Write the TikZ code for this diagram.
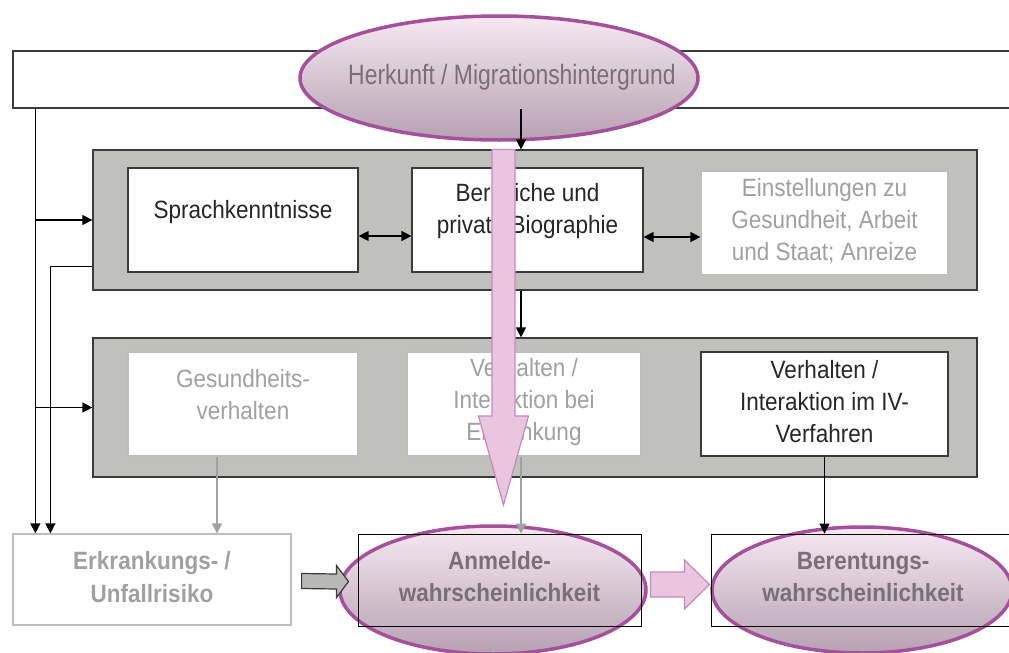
\documentclass[tikz,border=0pt]{standalone}
\usepackage{fontspec}
\setmainfont[FakeStretch=0.9]{Liberation Sans}
\usepackage{graphicx}
\usetikzlibrary{shapes.geometric,arrows.meta,calc}

\definecolor{rahmen}{HTML}{3A3A3A}
\definecolor{ebenegrau}{HTML}{C0C0BD}
\definecolor{hellgrau}{HTML}{A0A0A0}
\definecolor{hellrahmen}{HTML}{BDBDBD}
\definecolor{lila}{HTML}{A5509A}
\definecolor{lilaoben}{HTML}{F7E8F3}
\definecolor{lilaunten}{HTML}{B6A1B2}
\definecolor{lilatext}{HTML}{7B6E79}
\definecolor{rosa}{HTML}{EAC5DF}
\definecolor{rosarand}{HTML}{C48AB8}
\definecolor{blockgrau}{HTML}{B9B9B5}

\tikzset{
  kasten/.style={draw=#1, fill=white, line width=1.2pt, minimum height=104pt,
    align=center, inner sep=2pt, text=black!85, font=\fontsize{25}{32}\selectfont},
  kasten/.default=rahmen,
  blass/.style={kasten=hellrahmen, text=hellgrau},
  hoch/.style={text depth=#1pt},
  ebene/.style={draw=rahmen, fill=ebenegrau, line width=1.2pt, minimum width=884pt, inner sep=0pt},
  wolke/.style={ellipse, draw=lila, line width=3.5pt, top color=lilaoben, bottom color=lilaunten, inner sep=0pt},
  ziel/.style={draw=black, line width=1pt, minimum height=92pt, align=center, inner sep=2pt,
    text=lilatext, font=\fontsize{25}{32}\selectfont\bfseries},
  pfeil/.style={-{Triangle[length=10pt,width=10pt]}, line width=1.3pt, draw=black},
  pfeilgrau/.style={pfeil, draw=hellgrau, color=hellgrau},
  dbl/.style={{Triangle[length=10pt,width=10pt]}-{Triangle[length=10pt,width=10pt]}, line width=1.3pt},
  rosapfeil/.style={draw=rosarand, fill=rosa, line width=1.2pt, line join=miter},
  graupfeil/.style={draw=rahmen, fill=blockgrau, line width=1.2pt, line join=miter}
}

\begin{document}
\begin{tikzpicture}[x=1pt,y=-1pt]
   \useasboundingbox (0,0) rectangle (1009,653);

   % Herkunft
   \node[kasten, fill=none, minimum width=1002pt, minimum height=57pt] (herkunftbox) at (514,79.5) {};
   \node[wolke, minimum width=398pt, minimum height=124pt] (herkunft) at (499,78) {};
   \node[text=lilatext, inner sep=0pt] (herkunfttext) at (512,77)
      {\scalebox{0.91}[1]{\fontsize{28}{30}\selectfont Herkunft / Migrationshintergrund}};

   % Ebenen
   \node[ebene, minimum height=140pt] (ebene1) at (535,220) {};
   \node[ebene, minimum height=139pt] (ebene2) at (535,407.5) {};

   \node[kasten, minimum width=230pt, hoch=21] (sprach) at (243,220) {Sprachkenntnisse};
   \node[kasten, minimum width=231pt, hoch=23] (beruf) at (527.5,220) {Berufliche und\\private Biographie};
   \node[blass, minimum width=247pt, hoch=8] (einst) at (824.5,223) {Einstellungen zu\\Gesundheit, Arbeit\\und Staat; Anreize};

   \node[blass, minimum width=230pt, hoch=20] (gesund) at (243,404) {Gesundheits-\\verhalten};
   \node[blass, minimum width=234pt, hoch=10] (verherk) at (524,404) {Verhalten /\\Interaktion bei\\Erkrankung};
   \node[kasten, minimum width=247pt, hoch=6] (verhiv) at (824.5,404) {Verhalten /\\Interaktion im IV-\\Verfahren};

   % Ergebnisse
   \node[blass, font=\fontsize{25}{33}\selectfont\bfseries, minimum width=278pt, minimum height=91pt, hoch=6]
      (erkr) at (152,579.5) {Erkrankungs- /\\Unfallrisiko};
   \node[wolke, minimum width=306pt, minimum height=128pt] (anmwolke) at (493,590) {};
   \node[wolke, minimum width=300pt, minimum height=126pt] (berwolke) at (862,590) {};
   \node[ziel, minimum width=283pt, hoch=8] (anm) at (499.5,580) {Anmelde-\\wahrscheinlichkeit};
   \node[ziel, minimum width=304pt, hoch=7] (ber) at (863,580) {Berentungs-\\wahrscheinlichkeit};

   % Verbindungen
   \coordinate (links1) at ([xshift=23]herkunftbox.south west);
   \coordinate (links2) at ([xshift=38]erkr.north west);
   \coordinate (mitte) at (521,0);
   \draw[pfeil] (links1) -- (links1 |- erkr.north);
   \draw[pfeil] (links1 |- ebene1.west) -- (ebene1.west);
   \draw[pfeil] (links1 |- ebene2.west) -- (ebene2.west);
   \draw[pfeil] ([yshift=24]ebene1.south west) -| (links2);

   \draw[dbl] ([yshift=-16]sprach.east) -- ([yshift=-16]beruf.west);
   \coordinate (beruf2) at ([yshift=-17]beruf.east);
   \draw[dbl] (beruf2) -- (beruf2 -| einst.west);

   \draw[pfeil] (herkunftbox.south -| mitte) -- (ebene1.north -| mitte);
   \draw[pfeil] (ebene1.south -| mitte) -- (ebene2.north -| mitte);
   \draw[pfeilgrau] (verherk.south -| mitte) -- (anm.north -| mitte);
   \coordinate (gesund2) at ([xshift=-26]gesund.south);
   \draw[pfeilgrau] (gesund2) -- (gesund2 |- erkr.north);
   \draw[pfeil] (verhiv.south) -- (verhiv.south |- ber.north);

   % Blockpfeile
   \coordinate (rosax) at (503.5,0);
   \coordinate (rosastart) at (rosax |- ebene1.north);
   \coordinate (rosaspitze) at (503.5,505);
   \draw[rosapfeil] ($(rosastart)+(-11.5,0)$) -- ($(rosaspitze)+(-11.5,-89)$) -- ($(rosaspitze)+(-25,-89)$)
      -- (rosaspitze) -- ($(rosaspitze)+(25,-89)$) -- ($(rosaspitze)+(11.5,-89)$) -- ($(rosastart)+(11.5,0)$) -- cycle;

   \coordinate (grauA) at ([xshift=10,yshift=-1.5]erkr.east);
   \coordinate (grauB) at ([xshift=-9,yshift=-1.5]anm.west);
   \draw[graupfeil] ($(grauA)+(0,-7.5)$) -- ($(grauB)+(-12,-7.5)$) -- ($(grauB)+(-12,-16)$)
      -- (grauB) -- ($(grauB)+(-12,16)$) -- ($(grauB)+(-12,7.5)$) -- ($(grauA)+(0,7.5)$) -- cycle;

   \coordinate (rosaA) at ([xshift=9,yshift=-4.5]anm.east);
   \coordinate (rosaB) at ([xshift=-1,yshift=-4.5]ber.west);
   \draw[rosapfeil] ($(rosaA)+(0,-12.5)$) -- ($(rosaB)+(-25,-12.5)$) -- ($(rosaB)+(-25,-24.5)$)
      -- (rosaB) -- ($(rosaB)+(-25,24.5)$) -- ($(rosaB)+(-25,12.5)$) -- ($(rosaA)+(0,12.5)$) -- cycle;

\end{tikzpicture}
\end{document}
